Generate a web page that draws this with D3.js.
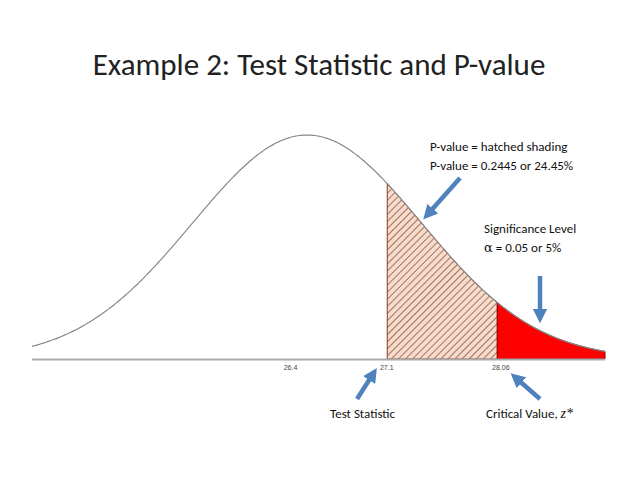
<!DOCTYPE html>
<html><head><meta charset="utf-8">
<script src="https://cdn.jsdelivr.net/npm/d3@7"></script>
<style>body{margin:0;background:#fff}</style></head>
<body><svg id="c" width="638" height="479"></svg>
<script>
const mean = 26.4, sd = 1;
const xDomain = [24, 29];
const tickValues = [26.4, 27.1, 28.06];
const tickLabels = ["26.4", "27.1", "28.06"];
const testStat = 27.1, critical = 28.06;

const svg = d3.select("#c");
const x = d3.scaleLinear().domain(xDomain).range([32, 605]);
const pdf = v => Math.exp(-0.5*((v-mean)/sd)**2)/(sd*Math.sqrt(2*Math.PI));
const y = d3.scaleLinear().domain([0, pdf(mean)]).range([359, 135]);
const pts = a => d3.range(a[0], a[1]+1e-9, (a[1]-a[0])/300).map(v=>[v,pdf(v)]);
const area = d3.area().x(d=>x(d[0])).y0(y(0)).y1(d=>y(d[1]));
const line = d3.line().x(d=>x(d[0])).y(d=>y(d[1]));

const defs = svg.append("defs");
const pat = defs.append("pattern").attr("id","hatch").attr("patternUnits","userSpaceOnUse")
  .attr("width",5).attr("height",5).attr("patternTransform","rotate(45)");
pat.append("rect").attr("width",5).attr("height",5).attr("fill","#f3ddd0");
pat.append("line").attr("x1",0).attr("y1",0).attr("x2",0).attr("y2",5).attr("stroke","#a0522d").attr("stroke-width",1.6);
const mk = defs.append("marker").attr("id","ah").attr("viewBox","0 0 10 10").attr("refX",5).attr("refY",5)
  .attr("markerWidth",3.2).attr("markerHeight",3.2).attr("orient","auto");
mk.append("path").attr("d","M0,0 L10,5 L0,10 z").attr("fill","#4f81bd");

svg.append("text").attr("x",319).attr("y",75).attr("text-anchor","middle")
  .attr("font-family","Carlito, 'Open Sans', sans-serif").attr("font-size",31).attr("fill","#222")
  .text("Example 2: Test Statistic and P-value");

svg.append("path").datum(pts([testStat, critical])).attr("d",area).attr("fill","url(#hatch)")
  .attr("stroke","#8b3a1a").attr("stroke-width",1);
svg.append("path").datum(pts([critical, xDomain[1]])).attr("d",area).attr("fill","#ff0000")
  .attr("stroke","#8b0000").attr("stroke-width",1);
svg.append("path").datum(pts(xDomain)).attr("d",line).attr("fill","none").attr("stroke","#888").attr("stroke-width",1.2);
svg.append("line").attr("x1",x(xDomain[0])).attr("x2",x(xDomain[1])).attr("y1",y(0)+0.5).attr("y2",y(0)+0.5)
  .attr("stroke","#aaa").attr("stroke-width",2);

const axis = d3.axisBottom(x).tickValues(tickValues).tickFormat((d,i)=>tickLabels[i]).tickSize(0).tickPadding(6);
const ag = svg.append("g").attr("transform",`translate(0,${y(0)})`).call(axis);
ag.select(".domain").remove();
ag.selectAll("text").attr("font-size",7).attr("font-family","Liberation Sans, sans-serif").attr("fill","#444")
  .attr("dx",(d,i)=>i===0?-17:(i===2?3:-1));

const f = "Carlito, 'Open Sans', sans-serif";
const txt = (t,xx,yy,anchor="start") => svg.append("text").attr("x",xx).attr("y",yy).attr("text-anchor",anchor)
  .attr("font-family",f).attr("font-size",13).attr("fill","#111").text(t);
txt("P-value = hatched shading",430,151);
txt("P-value = 0.2445 or 24.45%",430,170);
txt("Significance Level",484,233);
const a = svg.append("text").attr("x",484).attr("y",252).attr("font-family",f).attr("font-size",13).attr("fill","#111");
a.append("tspan").attr("font-family","'DejaVu Serif', serif").text("α");
a.append("tspan").text(" = 0.05 or 5%");
txt("Test Statistic",330,418);
const c = svg.append("text").attr("x",486).attr("y",418).attr("font-family",f).attr("font-size",13).attr("fill","#111");
c.append("tspan").text("Critical Value, ");
c.append("tspan").attr("font-style","italic").attr("font-family","'Liberation Serif', serif").attr("font-size",14).text("z*");

const arrows = [[460,178,428,214],[540,276,540,316],[357,399,373,374],[540,399,516,378]];
svg.selectAll(".arr").data(arrows).join("line").attr("class","arr")
  .attr("x1",d=>d[0]).attr("y1",d=>d[1]).attr("x2",d=>d[2]).attr("y2",d=>d[3])
  .attr("stroke","#4f81bd").attr("stroke-width",4.5).attr("marker-end","url(#ah)");
</script></body></html>
